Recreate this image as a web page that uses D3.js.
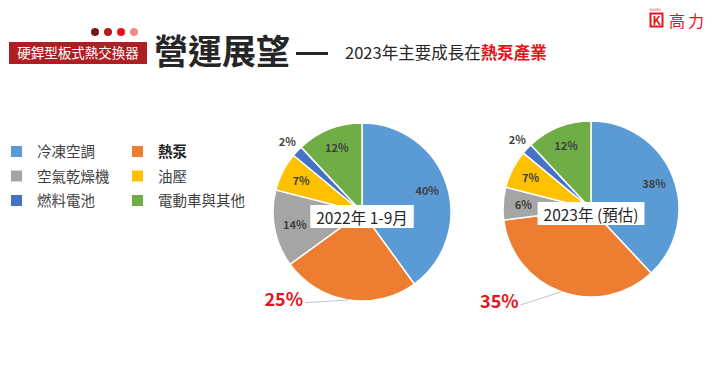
<!DOCTYPE html>
<html>
<head>
<meta charset="utf-8">
<script src="https://cdn.jsdelivr.net/npm/d3@7/dist/d3.min.js"></script>
<style>
  body { margin: 0; background: #fff; }
  svg { display: block; font-family: "Noto Sans CJK TC", "Noto Sans", sans-serif; }
</style>
</head>
<body>
<div id="chart"></div>
<script>
// ---------------- data ----------------
const categories = ["冷凍空調", "熱泵", "空氣乾燥機", "油壓", "燃料電池", "電動車與其他"];
const values2022 = [40, 25, 14, 7, 2, 12];
const values2023 = [38, 35, 6, 7, 2, 12];
const pieTitles = ["2022年 1-9月", "2023年 (預估)"];
const highlight = "熱泵";

const colors = ["#5B9BD5", "#ED7D31", "#A5A5A5", "#FFC000", "#4472C4", "#70AD47"];
// legend order: two columns
const legendOrder = ["冷凍空調", "空氣乾燥機", "燃料電池", "熱泵", "油壓", "電動車與其他"];

const width = 720, height = 386;
const svg = d3.select("#chart").append("svg")
  .attr("width", width)
  .attr("height", height);

svg.append("rect").attr("width", width).attr("height", height).attr("fill", "#fff");

//---------------- header ----------------
const dotColors = ["#7A1517", "#B3191E", "#E5141B", "#F08A8C"];
svg.selectAll("circle.dot").data(dotColors).enter().append("circle")
  .attr("class", "dot")
  .attr("cx", (d, i) => 95 + i * 13)
  .attr("cy", 32)
  .attr("r", 4)
  .attr("fill", d => d);

svg.append("rect")
  .attr("x", 9).attr("y", 42).attr("width", 138).attr("height", 22)
  .attr("fill", "#AE1F23");
svg.append("text")
  .attr("x", 78).attr("y", 58)
  .attr("text-anchor", "middle")
  .attr("fill", "#fff")
  .style("font-size", "13.5px")
  .text("硬銲型板式熱交換器");

svg.append("text")
  .attr("x", 154).attr("y", 64)
  .attr("fill", "#262626")
  .style("font-size", "34px")
  .style("font-weight", "bold")
  .text("營運展望");
svg.append("rect")
  .attr("x", 296).attr("y", 52).attr("width", 32).attr("height", 3)
  .attr("fill", "#262626");

const sub = svg.append("text")
  .attr("x", 345).attr("y", 59)
  .attr("fill", "#262626")
  .style("font-size", "16.5px");
sub.append("tspan").text("2023年主要成長在");
sub.append("tspan").attr("fill", "#E5141B").style("font-weight", "bold").text("熱泵產業");

// logo
svg.append("rect").attr("x", 650.5).attr("y", 13.5).attr("width", 12).attr("height", 13)
  .attr("fill", "none").attr("stroke", "#E5141B").attr("stroke-width", 2);
svg.append("text").attr("x", 656.5).attr("y", 24.5).attr("text-anchor", "middle")
  .attr("fill", "#E5141B").style("font-size", "12px").style("font-weight", "bold").text("K");
svg.append("text").attr("x", 650).attr("y", 11).attr("fill", "#E5141B")
  .style("font-size", "3.5px").style("font-family", "DejaVu Sans").text("KAORI");
svg.append("text").attr("x", 669).attr("y", 26.5).attr("fill", "#E5141B")
  .style("font-size", "16px").style("letter-spacing", "3px").text("高力");

//---------------- legend ----------------
const color = d3.scaleOrdinal().domain(categories).range(colors);
const legend = svg.selectAll("g.legend").data(legendOrder).enter().append("g")
  .attr("class", "legend")
  .attr("transform", (d, i) => "translate(" + (i < 3 ? 11 : 132) + "," + (146 + (i % 3) * 24.5) + ")");
legend.append("rect").attr("width", 11).attr("height", 11).attr("fill", d => color(d));
legend.append("text")
  .attr("x", 26).attr("y", 11)
  .attr("fill", d => d === highlight ? "#262626" : "#404040")
  .style("font-size", "14.5px")
  .style("font-weight", d => d === highlight ? "bold" : "normal")
  .text(d => d);

//---------------- pies ----------------
const pie = d3.pie().sort(null).value(d => d.v);
// lx/ly: where the leader line of the highlighted label ends (fraction of radius)
const pies = [
  { cx: 362, cy: 212, r: 89, values: values2022, title: pieTitles[0], lx: -0.64, ly: 1.02 },
  { cx: 591, cy: 209, r: 88, values: values2023, title: pieTitles[1], lx: -0.80, ly: 1.09 }
];

pies.forEach(function (p) {
  const data = categories.map((c, i) => ({ c: c, v: p.values[i] }));
  const arcs = pie(data);
  const arc = d3.arc().innerRadius(0).outerRadius(p.r);
  const g = svg.append("g").attr("transform", "translate(" + p.cx + "," + p.cy + ")");

  g.selectAll("path").data(arcs).enter().append("path")
    .attr("d", arc)
    .attr("fill", d => color(d.data.c))
    .attr("stroke", "#fff")
    .attr("stroke-width", 1.5);

  const labels = arcs.filter(d => d.data.c !== highlight);
  g.selectAll("text.pct").data(labels).enter().append("text")
    .attr("class", "pct")
    .attr("transform", function (d) {
      const a = (d.startAngle + d.endAngle) / 2;
      const rr = d.data.v <= 3 ? p.r * 1.15 : p.r * 0.77;
      return "translate(" + (rr * Math.sin(a)) + "," + (-rr * Math.cos(a)) + ")";
    })
    .attr("text-anchor", "middle")
    .attr("dy", "0.35em")
    .attr("fill", "#404040")
    .style("font-size", "11px")
    .style("font-weight", "bold")
    .text(d => d.data.v + "%");

  // highlighted slice: outside label with leader line
  const h = arcs.find(d => d.data.c === highlight);
  const ha = (h.startAngle + h.endAngle) / 2;
  const ex = p.r * Math.sin(ha), ey = -p.r * Math.cos(ha);
  const lx = p.r * p.lx, ly = p.r * p.ly;
  g.append("polyline")
    .attr("points", [[ex, ey], [lx, ly]].map(q => q.join(",")).join(" "))
    .attr("fill", "none")
    .attr("stroke", "#A6B6C8")
    .attr("stroke-width", 0.8);
  g.append("text")
    .attr("x", lx - 2).attr("y", ly + 3)
    .attr("text-anchor", "end")
    .attr("fill", "#E5141B")
    .style("font-size", "18px")
    .style("font-weight", "bold")
    .text(h.data.v + "%");

  // center title box
  const t = g.append("text")
    .attr("x", 0).attr("y", 12)
    .attr("text-anchor", "middle")
    .attr("fill", "#262626")
    .style("font-size", "15.5px")
    .text(p.title);
  const bb = t.node().getBBox();
  g.insert("rect", "text")
    .attr("x", bb.x - 6).attr("y", -7).attr("width", bb.width + 12).attr("height", 23)
    .attr("fill", "#fff");
});
</script>
</body>
</html>
